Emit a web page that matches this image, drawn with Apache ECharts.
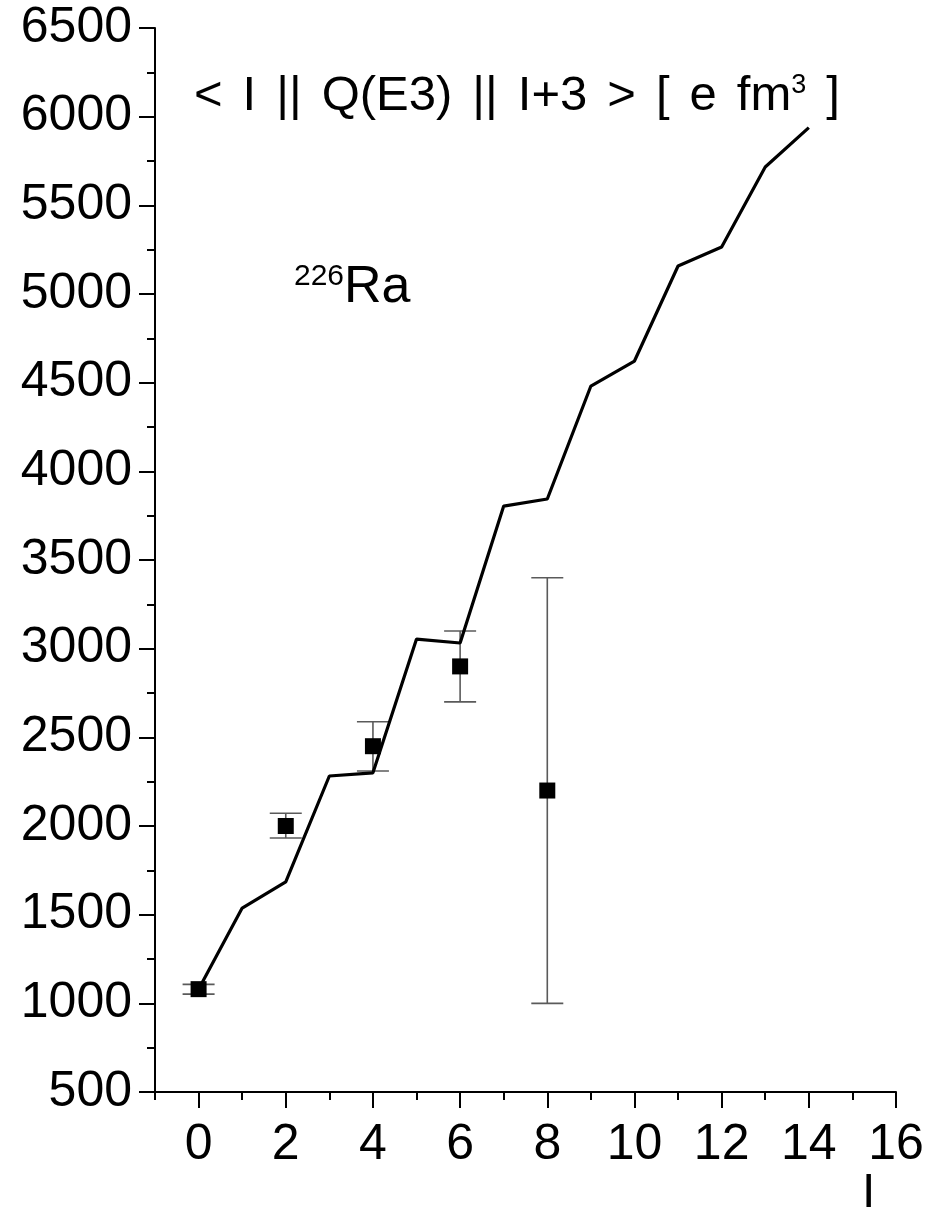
<!DOCTYPE html>
<html>
<head>
<meta charset="utf-8">
<title>226Ra E3 matrix elements</title>
<script src="https://cdn.jsdelivr.net/npm/echarts@6/dist/echarts.min.js"></script>
<style>
  html, body { margin: 0; padding: 0; background: #ffffff; }
  #chart { width: 930px; height: 1217px; }
</style>
</head>
<body>
<div id="chart"></div>
<script>
// Calculated reduced matrix elements <I||Q(E3)||I+3> vs spin I
const calcSpin = [0, 1, 2, 3, 4, 5, 6, 7, 8, 9, 10, 11, 12, 13, 14];
const calcValue = [1080, 1537, 1685, 2282, 2300, 3054, 3032, 3804, 3844, 4481, 4622, 5158, 5265, 5716, 5938];

// Measured values with lower / upper error limits
const expSpin = [0, 2, 4, 6, 8];
const expValue = [1080, 2000, 2450, 2900, 2200];
const expLow = [1052, 1932, 2310, 2700, 1000];
const expHigh = [1107, 2072, 2588, 3100, 3400];

// Axis ranges
const xMin = -1, xMax = 16;
const yMin = 500, yMax = 6500, yStep = 500;

const FONT = "'Liberation Sans', Arial, Helvetica, sans-serif";

// Plot frame in pixels
const plotLeft = 155, plotRight = 34, plotTop = 28, plotBottom = 125;
const plotWidth = 930 - plotLeft - plotRight;
const unit = plotWidth / (xMax - xMin);

const chart = echarts.init(document.getElementById('chart'), null, { renderer: 'canvas' });

const option = {
  backgroundColor: '#ffffff',
  animation: false,
  grid: [
    // main frame, spin axis from -1
    { left: plotLeft, right: plotRight, top: plotTop, bottom: plotBottom, containLabel: false },
    // overlay frame starting at spin 0, carries the labelled even ticks
    { left: plotLeft + unit * (0 - xMin), right: plotRight, top: plotTop, bottom: plotBottom, containLabel: false }
  ],
  xAxis: [
    {
      gridIndex: 0, type: 'value', min: xMin, max: xMax, interval: 1,
      splitLine: { show: false },
      axisLine: { show: true, onZero: false, lineStyle: { color: '#000', width: 2 } },
      axisTick: { show: true, inside: false, length: 8, lineStyle: { color: '#000', width: 2 } },
      axisLabel: { show: false }
    },
    {
      gridIndex: 1, type: 'value', min: 0, max: xMax, interval: 2,
      splitLine: { show: false },
      axisLine: { show: false, onZero: false },
      axisTick: { show: true, inside: false, length: 16, lineStyle: { color: '#000', width: 2 } },
      axisLabel: { show: true, margin: 28, color: '#000', fontSize: 50, fontFamily: FONT }
    }
  ],
  yAxis: [
    {
      gridIndex: 0, type: 'value', min: yMin, max: yMax, interval: yStep,
      splitLine: { show: false },
      axisLine: { show: true, onZero: false, lineStyle: { color: '#000', width: 2 } },
      axisTick: { show: true, inside: false, length: 16, lineStyle: { color: '#000', width: 2 } },
      minorTick: { show: true, splitNumber: 2, length: 8, lineStyle: { color: '#000', width: 2 } },
      axisLabel: {
        margin: 23, color: '#000', fontSize: 50, fontFamily: FONT,
        formatter: function (v) { return String(v); }
      }
    },
    {
      gridIndex: 1, type: 'value', min: yMin, max: yMax, show: false
    }
  ],
  series: [
    {
      type: 'custom',
      name: 'errors',
      xAxisIndex: 0, yAxisIndex: 0,
      z: 2,
      data: expSpin.map((s, i) => [s, expLow[i], expHigh[i]]),
      renderItem: function (params, api) {
        const x = api.value(0);
        const lo = api.coord([x, api.value(1)]);
        const hi = api.coord([x, api.value(2)]);
        const half = 16;
        const style = { stroke: '#5a5a5a', lineWidth: 1.6 };
        return {
          type: 'group',
          children: [
            { type: 'line', shape: { x1: lo[0], y1: lo[1], x2: hi[0], y2: hi[1] }, style: style },
            { type: 'line', shape: { x1: lo[0] - half, y1: lo[1], x2: lo[0] + half, y2: lo[1] }, style: style },
            { type: 'line', shape: { x1: hi[0] - half, y1: hi[1], x2: hi[0] + half, y2: hi[1] }, style: style }
          ]
        };
      }
    },
    {
      type: 'scatter',
      name: 'experiment',
      xAxisIndex: 0, yAxisIndex: 0,
      z: 3,
      symbol: 'rect',
      symbolSize: 16,
      itemStyle: { color: '#000', opacity: 1 },
      data: expSpin.map((s, i) => [s, expValue[i]])
    },
    {
      type: 'line',
      name: 'calculation',
      xAxisIndex: 0, yAxisIndex: 0,
      z: 4,
      showSymbol: false,
      symbol: 'none',
      lineStyle: { color: '#000', width: 3.2 },
      data: calcSpin.map((s, i) => [s, calcValue[i]])
    }
  ],
  graphic: [
    {
      type: 'text', left: 194, top: 72,
      style: {
        text: '{t|<}{s| }{t|I}{s| }{t|||}{s| }{t|Q(E3)}{s| }{t|||}{s| }{t|I+3}{s| }{t|>}{s| }{t|[}{s| }{t|e}{s| }{t|fm}{sup|3}{s| }{t|]}',
        fill: '#000',
        rich: {
          t: { fontSize: 49, fontFamily: FONT, verticalAlign: 'bottom' },
          s: { fontSize: 49, fontFamily: FONT, width: 20 },
          sup: { fontSize: 27, fontFamily: FONT, verticalAlign: 'top', padding: [0, 0, 20, 0] }
        }
      }
    },
    {
      type: 'text', left: 294, top: 262,
      style: {
        text: '{sup|226}{t|Ra}',
        fill: '#000',
        rich: {
          t: { fontSize: 52, fontFamily: FONT, verticalAlign: 'bottom' },
          sup: { fontSize: 30, fontFamily: FONT, verticalAlign: 'top', padding: [0, 0, 22, 0] }
        }
      }
    },
    {
      type: 'text', left: 862, top: 1170,
      style: { text: 'I', fontSize: 48, fontFamily: FONT, fill: '#000' }
    }
  ]
};

chart.setOption(option);
</script>
</body>
</html>
